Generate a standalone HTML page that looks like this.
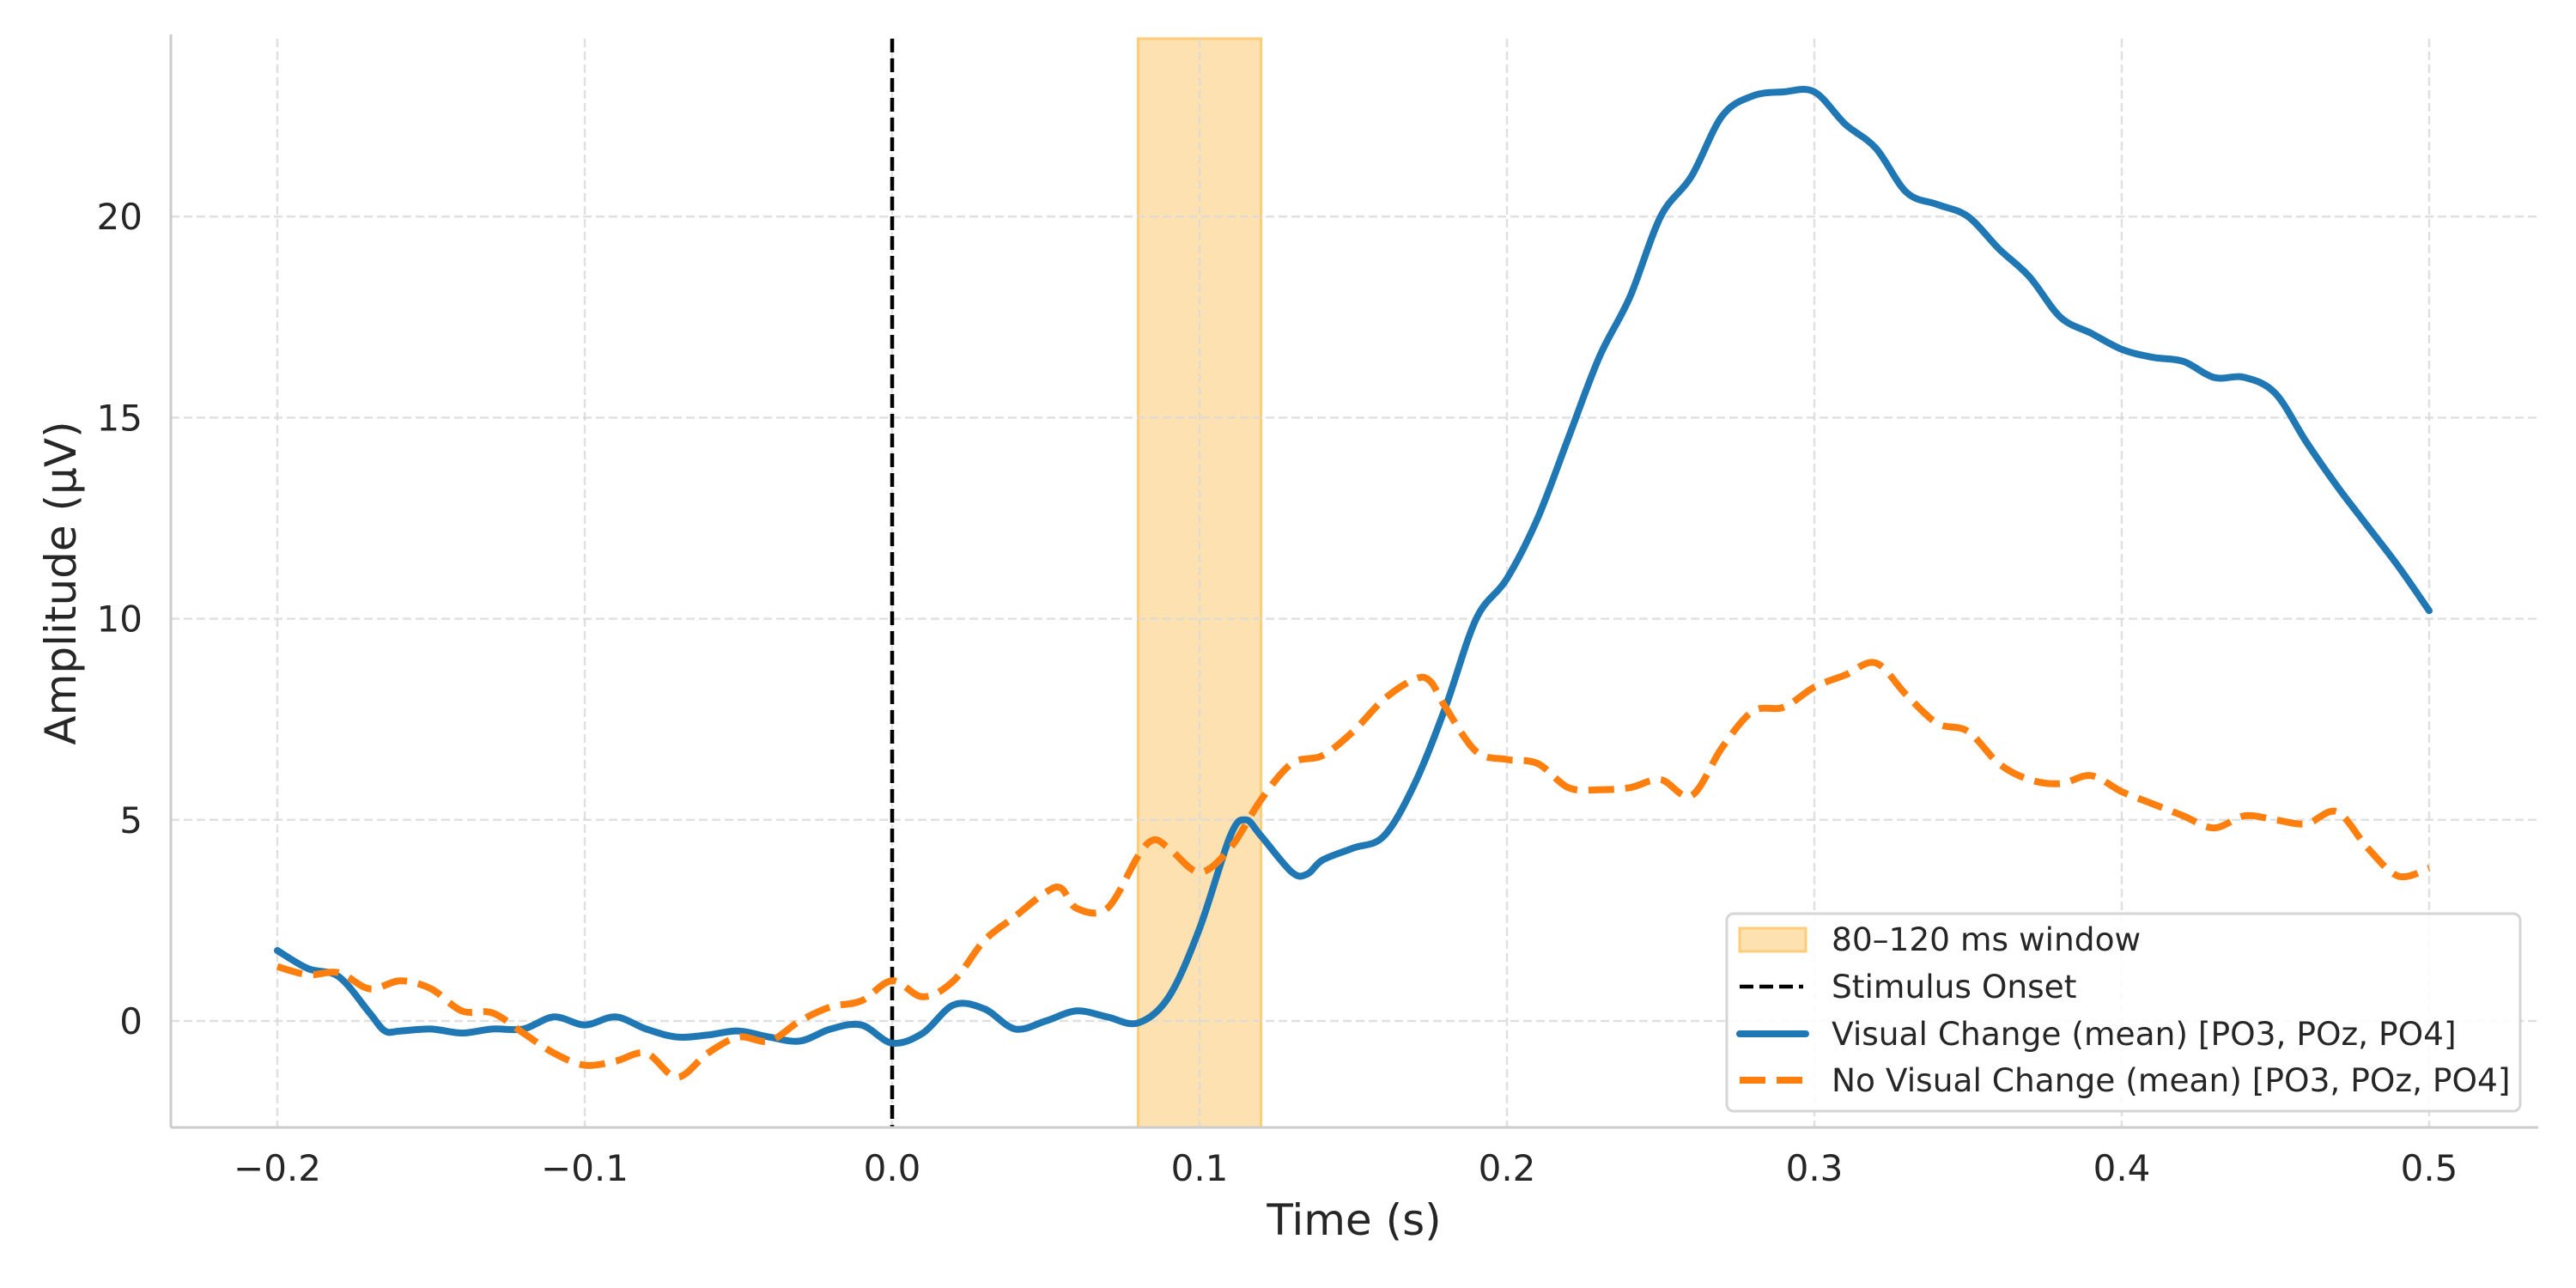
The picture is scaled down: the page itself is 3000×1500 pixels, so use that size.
<!DOCTYPE html>
<html><head><meta charset="utf-8"><style>
html,body{margin:0;padding:0;background:#fff;}
svg{display:block;font-family:"DejaVu Sans","Liberation Sans",sans-serif;}
</style></head><body>
<svg id="chart" width="3000" height="1500" viewBox="0 0 3000 1500">
<rect x="0" y="0" width="3000" height="1500" fill="#fff"/>
<g id="band"></g>
<g id="grid"></g>
<g id="lines"></g>
<g id="axes"></g>
<g id="legend"></g>
</svg>
<script>
const xTicks=[-0.2,-0.1,0.0,0.1,0.2,0.3,0.4,0.5];
const xTickLabels=["\u22120.2","\u22120.1","0.0","0.1","0.2","0.3","0.4","0.5"];
const yTicks=[0,5,10,15,20];
const yTickLabels=["0","5","10","15","20"];
const windowRange=[0.08,0.12];
const onsetTime=0.0;
const blueT=[-0.2,-0.19,-0.18,-0.17,-0.165,-0.16,-0.15,-0.14,-0.13,-0.12,-0.11,-0.10,-0.09,-0.08,-0.07,-0.06,-0.05,-0.04,-0.03,-0.02,-0.01,0.0,0.01,0.02,0.03,0.04,0.05,0.06,0.07,0.08,0.09,0.10,0.11,0.115,0.12,0.13,0.135,0.14,0.15,0.16,0.17,0.18,0.19,0.20,0.21,0.22,0.23,0.24,0.25,0.26,0.27,0.28,0.29,0.30,0.31,0.32,0.33,0.34,0.35,0.36,0.37,0.38,0.39,0.40,0.41,0.42,0.43,0.44,0.45,0.46,0.47,0.48,0.49,0.50];
const blueV=[1.75,1.3,1.1,0.2,-0.25,-0.25,-0.2,-0.3,-0.2,-0.2,0.1,-0.1,0.1,-0.2,-0.4,-0.35,-0.25,-0.4,-0.5,-0.2,-0.1,-0.55,-0.3,0.4,0.3,-0.2,0.0,0.25,0.1,-0.05,0.6,2.3,4.6,5.0,4.6,3.7,3.65,4.0,4.3,4.6,5.9,7.8,10.0,11.0,12.5,14.5,16.5,18.0,20.0,21.0,22.5,23.0,23.1,23.1,22.3,21.7,20.6,20.3,20.0,19.2,18.5,17.5,17.1,16.7,16.5,16.4,16.0,16.0,15.6,14.4,13.3,12.3,11.3,10.2];
const orangeT=[-0.2,-0.19,-0.18,-0.17,-0.16,-0.15,-0.14,-0.13,-0.12,-0.11,-0.10,-0.09,-0.08,-0.07,-0.06,-0.05,-0.04,-0.03,-0.02,-0.01,0.0,0.01,0.02,0.03,0.04,0.05,0.055,0.06,0.07,0.08,0.085,0.09,0.10,0.11,0.12,0.13,0.14,0.15,0.16,0.17,0.175,0.18,0.19,0.20,0.21,0.22,0.23,0.24,0.25,0.26,0.27,0.28,0.29,0.30,0.31,0.32,0.33,0.34,0.35,0.36,0.37,0.38,0.39,0.40,0.41,0.42,0.43,0.44,0.45,0.46,0.47,0.48,0.49,0.50];
const orangeV=[1.35,1.15,1.2,0.8,1.0,0.8,0.25,0.2,-0.3,-0.8,-1.1,-1.0,-0.8,-1.4,-0.8,-0.4,-0.5,0.0,0.35,0.5,1.0,0.6,1.0,2.0,2.6,3.2,3.3,2.8,2.8,4.1,4.5,4.3,3.7,4.3,5.5,6.4,6.6,7.2,8.0,8.5,8.45,7.8,6.7,6.5,6.4,5.8,5.75,5.8,6.0,5.6,6.8,7.7,7.8,8.3,8.6,8.9,8.1,7.4,7.2,6.4,6.0,5.9,6.1,5.7,5.4,5.1,4.8,5.1,5.0,4.9,5.2,4.3,3.6,3.8];

const L=199,R=2956,T=45,B=1313;
function X(t){return 1039+(t-0)*3580;}
function Y(v){return 1189-v*46.84;}
const NS="http://www.w3.org/2000/svg";
function mk(tag,attrs,parent){const e=document.createElementNS(NS,tag);for(const k in attrs)e.setAttribute(k,attrs[k]);parent.appendChild(e);return e;}
const band=document.getElementById('band'),grid=document.getElementById('grid'),lines=document.getElementById('lines'),axes=document.getElementById('axes'),legend=document.getElementById('legend');

let b=mk('rect',{x:X(windowRange[0]),y:T,width:X(windowRange[1])-X(windowRange[0]),height:B-T,fill:'#fee1b1',stroke:'#ffcc77','stroke-width':3},band);



xTicks.forEach((t,i)=>{
  let g=mk('line',{x1:X(t),x2:X(t),y1:T,y2:B,stroke:'#d9d9d9','stroke-width':2.5,'stroke-dasharray':'10,5',opacity:0.8},grid);
  
  
  let tx=mk('text',{x:X(t),y:1375,'font-size':42,fill:'#262626','text-anchor':'middle'},axes);
  tx.textContent=xTickLabels[i];
  
  
});
yTicks.forEach((v,i)=>{
  let g=mk('line',{x1:L,x2:R,y1:Y(v),y2:Y(v),stroke:'#d9d9d9','stroke-width':2.5,'stroke-dasharray':'10,5',opacity:0.8},grid);
  
  
  let tx=mk('text',{x:166,y:Y(v)+15,'font-size':42,fill:'#262626','text-anchor':'end'},axes);
  tx.textContent=yTickLabels[i];
  
  
});

let on=mk('line',{x1:X(onsetTime),x2:X(onsetTime),y1:T,y2:B,stroke:'#000','stroke-width':4.5,'stroke-dasharray':'16,7'},lines);



function path(ts,vs){
  const p=ts.map((t,i)=>[X(t),Y(vs[i])]);
  let d='M'+p[0][0].toFixed(1)+','+p[0][1].toFixed(1);
  for(let i=0;i<p.length-1;i++){
    const p0=p[Math.max(0,i-1)],p1=p[i],p2=p[i+1],p3=p[Math.min(p.length-1,i+2)];
    const c1=[p1[0]+(p2[0]-p0[0])/6,p1[1]+(p2[1]-p0[1])/6];
    const c2=[p2[0]-(p3[0]-p1[0])/6,p2[1]-(p3[1]-p1[1])/6];
    d+=' C'+c1[0].toFixed(1)+','+c1[1].toFixed(1)+' '+c2[0].toFixed(1)+','+c2[1].toFixed(1)+' '+p2[0].toFixed(1)+','+p2[1].toFixed(1);
  }
  return d;
}
let pb=mk('path',{d:path(blueT,blueV),fill:'none',stroke:'#1f77b4','stroke-width':8,'stroke-linejoin':'round','stroke-linecap':'round'},lines);


let po=mk('path',{d:path(orangeT,orangeV),fill:'none',stroke:'#ff7f0e','stroke-width':8,'stroke-linejoin':'round','stroke-dasharray':'30,13'},lines);



let sl=mk('line',{x1:L,x2:L,y1:T-5,y2:B,stroke:'#cccccc','stroke-width':3},axes);


let sb=mk('line',{x1:L,x2:R,y1:B,y2:B,stroke:'#cccccc','stroke-width':3},axes);



let xt=mk('text',{x:1577,y:1438,'font-size':50,fill:'#262626','text-anchor':'middle'},axes);
xt.textContent='Time (s)';


let yt=mk('text',{x:0,y:0,'font-size':50,fill:'#262626','text-anchor':'middle',transform:'translate(88,679) rotate(-90)'},axes);
yt.textContent='Amplitude (\u00b5V)';



let lb=mk('rect',{x:2011,y:1064,width:924,height:230,rx:8,fill:'#fff','fill-opacity':0.85,stroke:'#d5d5d5','stroke-width':3},legend);


const legendLabels=['80\u2013120 ms window','Stimulus Onset','Visual Change (mean) [PO3, POz, PO4]','No Visual Change (mean) [PO3, POz, PO4]'];
const ly=[1094,1149,1204,1258];
let h0=mk('rect',{x:2026,y:ly[0]-13,width:77,height:27,fill:'#fee1b1',stroke:'#ffcc77','stroke-width':3},legend);


let h1=mk('line',{x1:2026,x2:2100,y1:ly[1],y2:ly[1],stroke:'#000','stroke-width':4.5,'stroke-dasharray':'16,7'},legend);


let h2=mk('line',{x1:2026,x2:2103,y1:ly[2],y2:ly[2],stroke:'#1f77b4','stroke-width':8,'stroke-linecap':'round'},legend);


let h3=mk('line',{x1:2026,x2:2103,y1:ly[3],y2:ly[3],stroke:'#ff7f0e','stroke-width':8,'stroke-dasharray':'30,13'},legend);


legendLabels.forEach((s,i)=>{
  let t=mk('text',{x:2133,y:ly[i]+13,'font-size':37.5,fill:'#262626'},legend);
  t.textContent=s;
  
  
});
</script>
</body></html>
